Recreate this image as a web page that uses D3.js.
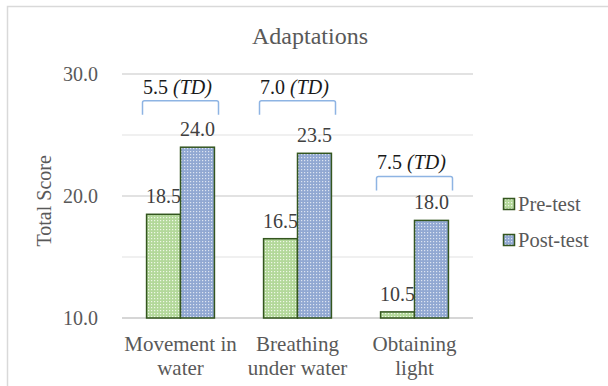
<!DOCTYPE html>
<html><head><meta charset="utf-8">
<script src="https://cdn.jsdelivr.net/npm/d3@7"></script>
<style>body{margin:0;background:#fff}svg{display:block}</style>
</head><body>
<svg id="c" width="608" height="386" style='font-family:"Liberation Serif"'></svg>
<script>
const categories = [["Movement in","water"],["Breathing","under water"],["Obtaining","light"]];
const seriesNames = ["Pre-test","Post-test"];
const preTest = [18.5, 16.5, 10.5];
const postTest = [24.0, 23.5, 18.0];
const diffLabels = ["5.5", "7.0", "7.5"];
const bracketLevels = [27.8, 27.8, 21.6];
const yTicks = [10, 20, 30];
const yGrid = [10, 15, 20, 25, 30];
const FONT = '"Liberation Serif"';

const svg = d3.select("#c");
const W = 608, H = 386;
const m = {l:122, r:473, t:74, b:318};

// outer border
svg.append("rect").attr("x",7.5).attr("y",6.5).attr("width",W).attr("height",H)
  .attr("fill","none").attr("stroke","#d9d9d9").attr("stroke-width",1.5);

// patterns
const defs = svg.append("defs");
function pat(id, base, dot){
  const p = defs.append("pattern").attr("id",id).attr("width",3).attr("height",3).attr("patternUnits","userSpaceOnUse");
  p.append("rect").attr("width",3).attr("height",3).attr("fill",base);
  p.append("rect").attr("x",1).attr("y",1).attr("width",1.2).attr("height",1.2).attr("fill",dot);
}
pat("pPre", "#b3d89a", "#eef7e6");
pat("pPost", "#91a8d2", "#dde4f1");

const x = d3.scaleBand().domain(d3.range(categories.length)).range([m.l, m.r]).paddingInner(0.42).paddingOuter(0.21);
const xs = d3.scaleBand().domain([0,1]).range([0, x.bandwidth()]);
const y = d3.scaleLinear().domain([10,30]).range([m.b, m.t]);

// gridlines
svg.append("g").selectAll("line").data(yGrid).join("line")
  .attr("x1",m.l).attr("x2",m.r).attr("y1",d=>y(d)).attr("y2",d=>y(d))
  .attr("stroke",d=>d===10?"#c8c8c8":(d%10===0?"#d9d9d9":"#ebebeb")).attr("stroke-width",1.3);

// y axis labels
const yAxis = d3.axisLeft(y).tickValues(yTicks).tickFormat(d3.format(".1f")).tickSize(0).tickPadding(0);
const ga = svg.append("g").attr("transform",`translate(${98},0)`).call(yAxis);
ga.select(".domain").remove();
ga.attr("font-family",null).style("font-family",FONT);
ga.selectAll("text").style("font-family",FONT).attr("font-size",20).attr("fill","#595959").attr("dy","0.32em");

// axis title
svg.append("text").attr("transform",`translate(51,${y(19.6)}) rotate(-90)`).attr("text-anchor","middle")
  .style("font-family",FONT).attr("font-size",20).attr("fill","#595959").text("Total Score");

// title
svg.append("text").attr("x",310).attr("y",44).attr("text-anchor","middle").style("font-family",FONT)
  .attr("font-size",24).attr("fill","#595959").text("Adaptations");

// bars
const series = [preTest, postTest];
const fills = ["url(#pPre)","url(#pPost)"];
series.forEach((vals, si)=>{
  svg.append("g").selectAll("rect").data(vals).join("rect")
    .attr("x",(d,i)=>x(i)+xs(si)).attr("width",xs.bandwidth())
    .attr("y",d=>y(d)).attr("height",d=>y(10)-y(d))
    .attr("fill",fills[si]).attr("stroke","#34561f").attr("stroke-width",1.5);
  svg.append("g").selectAll("text").data(vals).join("text")
    .attr("x",(d,i)=>x(i)+xs(si)+xs.bandwidth()/2).attr("y",d=>y(d)-11)
    .attr("text-anchor","middle").style("font-family",FONT).attr("font-size",20).attr("fill","#404040")
    .text(d=>d3.format(".1f")(d));
});

// brackets and differences
categories.forEach((c,i)=>{
  const cx = x(i)+x.bandwidth()/2;
  const x0 = cx-38, x1 = cx+38;
  const yt = y(bracketLevels[i]), yb = yt+14;
  svg.append("path").attr("d",`M${x0},${yb} L${x0},${yt+2} Q${x0},${yt} ${x0+2},${yt} L${x1-2},${yt} Q${x1},${yt} ${x1},${yt+2} L${x1},${yb}`)
    .attr("fill","none").attr("stroke","#8eb4e3").attr("stroke-width",1.5);
  const t = svg.append("text").attr("x",cx-3).attr("y",yt-7).attr("text-anchor","middle")
    .style("font-family",FONT).attr("font-size",20).attr("fill","#1a1a1a");
  t.append("tspan").text(diffLabels[i]+" ");
  t.append("tspan").attr("font-style","italic").text("(TD)");
});

// category labels
categories.forEach((c,i)=>{
  const cx = x(i)+x.bandwidth()/2;
  c.forEach((line,li)=>{
    svg.append("text").attr("x",cx).attr("y",351+li*24).attr("text-anchor","middle")
      .style("font-family",FONT).attr("font-size",21).attr("fill","#595959").text(line);
  });
});

// legend
seriesNames.forEach((n,i)=>{
  const ly = 198 + i*36;
  svg.append("rect").attr("x",503.5).attr("y",ly+0.5).attr("width",11).attr("height",11)
    .attr("fill",fills[i]).attr("stroke","#34561f").attr("stroke-width",1.5);
  svg.append("text").attr("x",518).attr("y",ly+13).style("font-family",FONT).attr("font-size",20.5)
    .attr("fill","#595959").text(n);
});
</script>
</body></html>
